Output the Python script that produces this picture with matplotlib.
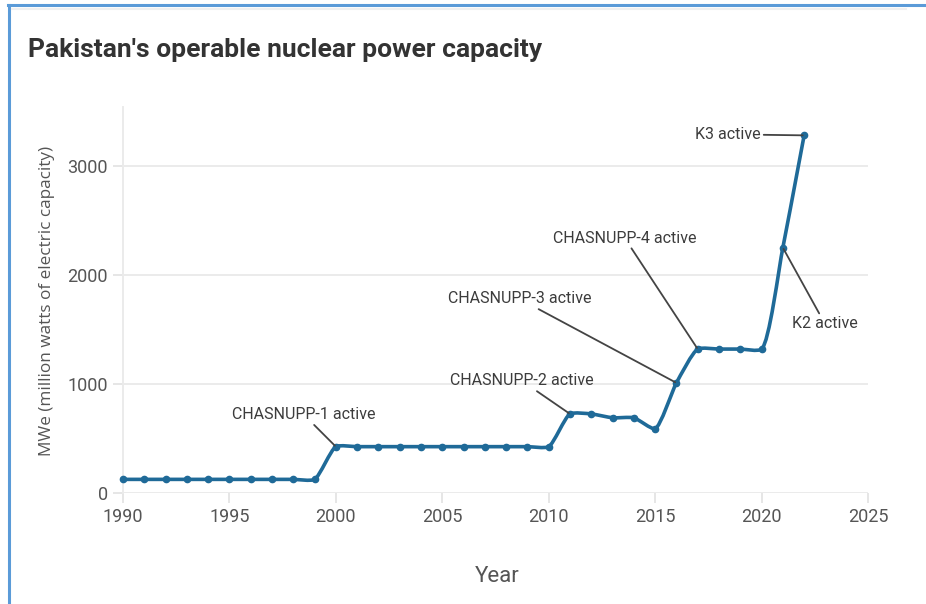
import matplotlib
matplotlib.use("Agg")
import matplotlib.pyplot as plt
from matplotlib.path import Path
from matplotlib.patches import PathPatch
from matplotlib.lines import Line2D
import numpy as np

years = list(range(1990, 2023))
capacity = [125, 125, 125, 125, 125, 125, 125, 125, 125, 125,
            425, 425, 425, 425, 425, 425, 425, 425, 425, 425, 425,
            725, 725, 690, 690, 590, 1010, 1320, 1320, 1320, 1320,
            2250, 3280]

annotations = [
    ("CHASNUPP-1 active", 2000, -32, 32),
    ("CHASNUPP-2 active", 2011, -48, 33),
    ("CHASNUPP-3 active", 2016, -157, 84),
    ("CHASNUPP-4 active", 2017, -73, 111),
    ("K2 active", 2021, 42, -76),
    ("K3 active", 2022, -76, 1),
]

x_ticks = [1990, 1995, 2000, 2005, 2010, 2015, 2020, 2025]
y_ticks = [0, 1000, 2000, 3000]

FONT = ["Roboto", "DejaVu Sans"]
LINE_COLOR = "#1f6a98"
GRID = "#ebebeb"

W, H = 926, 604
fig = plt.figure(figsize=(W / 100, H / 100), dpi=100)
ax = fig.add_axes([123 / W, 1 - 493 / H, (868 - 123) / W, (493 - 107) / H])
ax.set_xlim(1990, 2025)
ax.set_ylim(0, 3540)
for name, s in ax.spines.items():
    s.set_visible(name == "left")
ax.spines["left"].set_color(GRID)
ax.spines["left"].set_linewidth(1.4)
ax.set_xticks(x_ticks)
ax.set_yticks(y_ticks)
ax.grid(True, axis="y", color=GRID, linewidth=1.4)
ax.set_axisbelow(True)
ax.tick_params(axis="both", length=7, width=1.4, color="#e6e6e6",
               labelsize=13, labelcolor="#555555", pad=4)
for lab in ax.get_xticklabels() + ax.get_yticklabels():
    lab.set_family(FONT)

# plotly-like spline drawn in display space
fig.canvas.draw()
pts = ax.transData.transform(np.column_stack([years, capacity]))
SMOOTH = 0.6

def tangent(p0, p1, p2, s):
    d1 = p0 - p1
    d2 = p2 - p1
    d1a = np.hypot(*d1) ** 0.5
    d2a = np.hypot(*d2) ** 0.5
    num = (d2a * d2a * d1 - d1a * d1a * d2) * s
    den1 = 3 * d2a * (d1a + d2a)
    den2 = 3 * d1a * (d1a + d2a)
    return p1 + num / den1, p1 - num / den2

tans = [tangent(pts[i - 1], pts[i], pts[i + 1], SMOOTH) for i in range(1, len(pts) - 1)]
verts = [pts[0], tans[0][0], pts[1]]
codes = [Path.MOVETO, Path.CURVE3, Path.CURVE3]
for i in range(2, len(pts) - 1):
    verts += [tans[i - 2][1], tans[i - 1][0], pts[i]]
    codes += [Path.CURVE4] * 3
verts += [tans[-1][1], pts[-1]]
codes += [Path.CURVE3] * 2
verts_data = ax.transData.inverted().transform(np.array(verts))
patch = PathPatch(Path(verts_data, codes), facecolor="none", edgecolor=LINE_COLOR,
                  linewidth=2.6, capstyle="round", joinstyle="round", clip_on=False, zorder=3)
ax.add_patch(patch)
ax.plot(years, capacity, linestyle="none", marker="o", markersize=4.5,
        color=LINE_COLOR, clip_on=False, zorder=4)

cap_map = dict(zip(years, capacity))
for text, yr, dx, dy in annotations:
    ax.annotate(text, xy=(yr, cap_map[yr]), xytext=(dx, dy), textcoords="offset pixels",
                ha="center", va="center", fontsize=11.5, color="#3c3c3c", family=FONT,
                arrowprops=dict(arrowstyle="-", color="#444444", linewidth=1.3,
                                shrinkA=0, shrinkB=1),
                zorder=5, annotation_clip=False)

fig.text(28 / W, 1 - 50 / H, "Pakistan's operable nuclear power capacity",
         ha="left", va="center", fontsize=19, fontweight="bold", color="#333333", family=FONT)
fig.text(47 / W, 1 - 301 / H, "MWe (million watts of electric capacity)", rotation=90,
         ha="center", va="center", fontsize=12.3, color="#555555", family=["Open Sans", "DejaVu Sans"])
fig.text(497 / W, 1 - 577 / H, "Year", ha="center", va="center", fontsize=16,
         color="#555555", family=FONT)

# frame lines
fig.add_artist(Line2D([8 / W, 1], [1 - 5 / H, 1 - 5 / H], color="#5b9bd8", linewidth=2.2))
fig.add_artist(Line2D([8.5 / W, 8.5 / W], [0, 1 - 5 / H], color="#5b9bd8", linewidth=2.2))
fig.add_artist(Line2D([12 / W, 906 / W], [1 - 9 / H, 1 - 9 / H], color="#f0f0f0", linewidth=1.5))

fig.savefig("out.png", dpi=100)
